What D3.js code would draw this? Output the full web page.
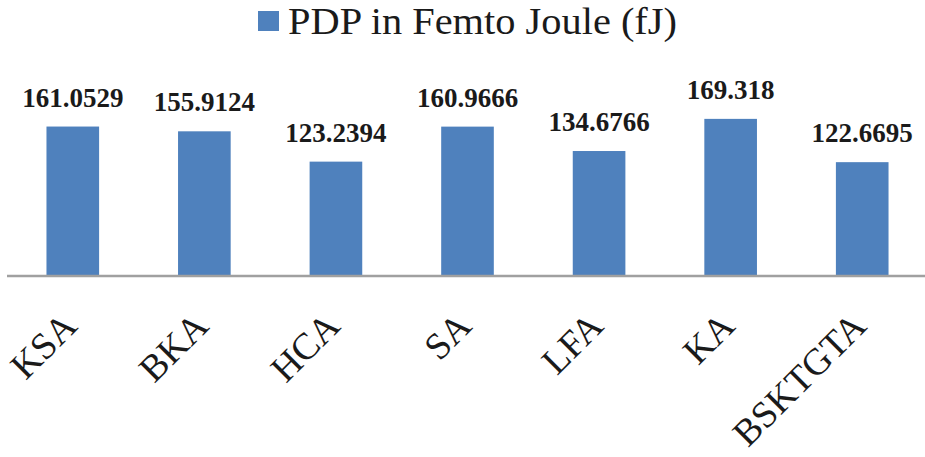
<!DOCTYPE html>
<html>
<head>
<meta charset="utf-8">
<script src="https://cdn.jsdelivr.net/npm/d3@7/dist/d3.min.js"></script>
<style>
  html, body { margin: 0; padding: 0; background: #ffffff; }
  svg { display: block; }
</style>
</head>
<body>
<svg id="chart" width="925" height="457"></svg>
<script>
const categories = ["KSA", "BKA", "HCA", "SA", "LFA", "KA", "BSKTGTA"];
const pdpValues = [161.0529, 155.9124, 123.2394, 160.9666, 134.6766, 169.318, 122.6695];
const valueLabels = ["161.0529", "155.9124", "123.2394", "160.9666", "134.6766", "169.318", "122.6695"];
const seriesName = "PDP in Femto Joule (fJ)";

const W = 925, H = 457;
const baseY = 276;
const barColor = "#4f81bd";
const fontFamily = "'Liberation Serif', 'Times New Roman', Times, serif";

const svg = d3.select("#chart");

const x = d3.scaleBand()
  .domain(categories)
  .range([7, 928])
  .paddingInner(0.6)
  .paddingOuter(0.3);

const y = d3.scaleLinear()
  .domain([0, 180])
  .range([baseY, baseY - 180 * 0.928]);

// Bars
svg.append("g")
  .selectAll("rect")
  .data(categories)
  .join("rect")
  .attr("x", d => x(d))
  .attr("width", x.bandwidth())
  .attr("y", (d, i) => y(pdpValues[i]))
  .attr("height", (d, i) => y(0) - y(pdpValues[i]))
  .attr("fill", barColor);

// Value labels
svg.append("g")
  .selectAll("text")
  .data(categories)
  .join("text")
  .attr("x", d => x(d) + x.bandwidth() / 2)
  .attr("y", (d, i) => y(pdpValues[i]) - 20)
  .attr("text-anchor", "middle")
  .attr("font-family", fontFamily)
  .attr("font-weight", "bold")
  .attr("font-size", 27)
  .attr("fill", "#1a1a1a")
  .text((d, i) => valueLabels[i]);

// X axis
const xAxis = d3.axisBottom(x).tickSize(0).tickPadding(0);
const gx = svg.append("g")
  .attr("transform", `translate(0,${baseY})`)
  .call(xAxis);
gx.select(".domain")
  .attr("d", `M7,0H925`)
  .attr("stroke", "#a0a0a0")
  .attr("stroke-width", 2.5);
gx.selectAll(".tick text")
  .attr("font-family", fontFamily)
  .attr("font-size", 37.5)
  .attr("fill", "#1a1a1a")
  .attr("text-anchor", "end")
  .attr("dy", 0)
  .attr("y", 0)
  .attr("transform", "translate(6,52) rotate(-45)");

// Legend
const legend = svg.append("g");
legend.append("rect")
  .attr("x", 258).attr("y", 11)
  .attr("width", 21).attr("height", 20)
  .attr("fill", barColor);
legend.append("text")
  .attr("x", 288).attr("y", 34)
  .attr("font-family", fontFamily)
  .attr("font-size", 38)
  .attr("textLength", 389)
  .attr("lengthAdjust", "spacingAndGlyphs")
  .attr("fill", "#1a1a1a")
  .text(seriesName);
</script>
</body>
</html>
